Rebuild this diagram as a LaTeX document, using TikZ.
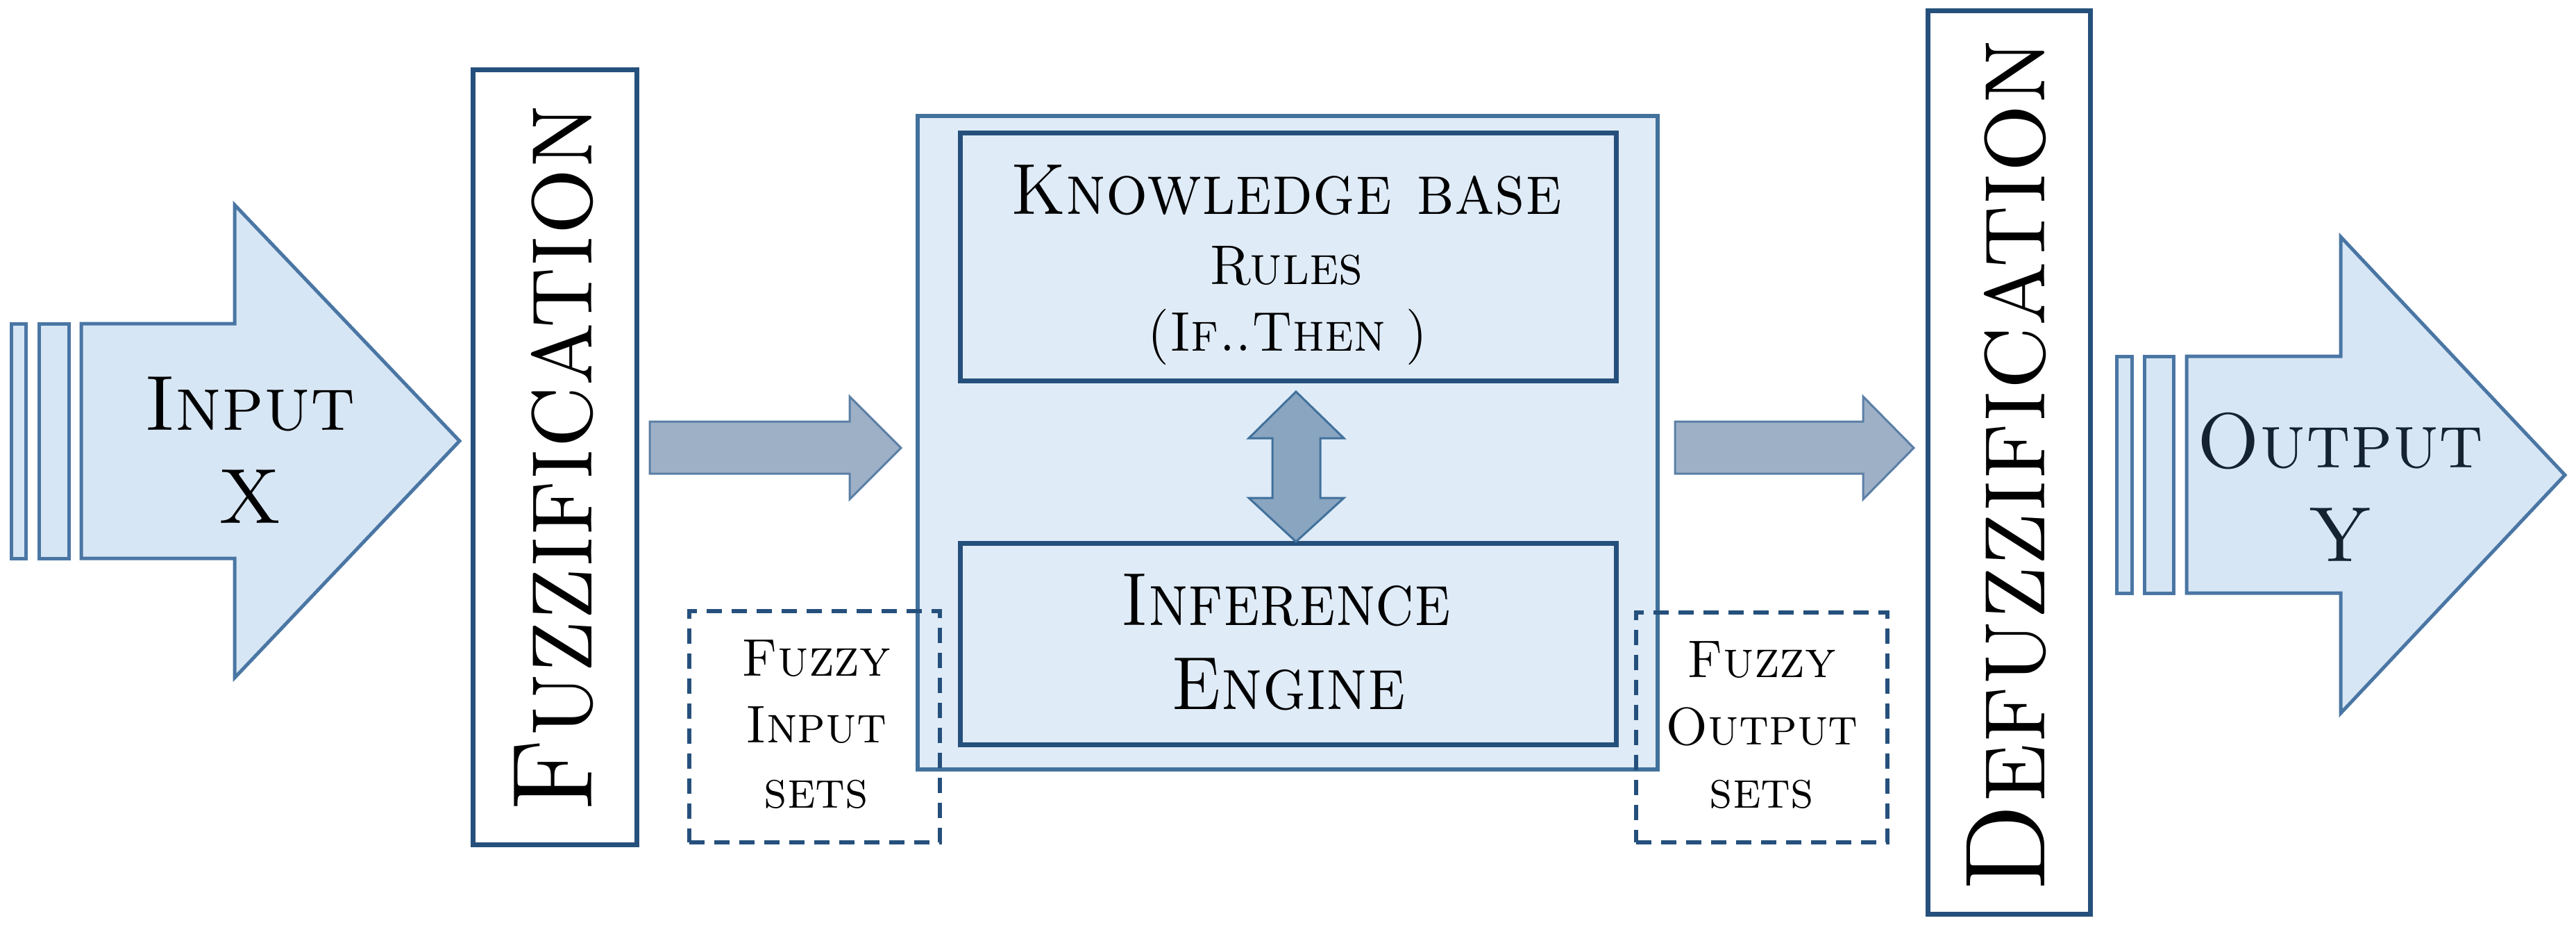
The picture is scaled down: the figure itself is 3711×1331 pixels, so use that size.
\documentclass[tikz,border=0pt]{standalone}
\usepackage{tikz}
\usepackage{graphicx}
\definecolor{arrfill}{HTML}{D7E6F4}
\definecolor{arrline}{HTML}{4A76A4}
\definecolor{boxline}{HTML}{25507C}
\definecolor{contfill}{HTML}{DFEBF7}
\definecolor{contline}{HTML}{41719C}
\definecolor{grayfill}{HTML}{9DB0C6}
\definecolor{grayline}{HTML}{5B7FA6}
\definecolor{dblfill}{HTML}{8AA5C0}
\definecolor{outtext}{HTML}{15222F}
\newcommand{\sx}[2]{\scalebox{#1}[1]{#2}}
\tikzset{
  bigarrow/.style={fill=arrfill, draw=arrline, line width=0.5mm, line join=miter},
  flowarrow/.style={fill=grayfill, draw=grayline, line width=0.3mm, line join=miter},
  darkbox/.style={draw=boxline, line width=0.7mm, inner sep=0pt},
  dashbox/.style={draw=boxline, line width=0.6mm, dash pattern=on 2.2mm off 1.4mm, inner sep=0pt},
  lbl/.style={anchor=base, inner sep=0pt, text=black},
}
\begin{document}
\begin{tikzpicture}[x=0.1mm,y=-0.1mm]
\useasboundingbox (0,0) rectangle (3711,1331);
% input arrow
\draw[bigarrow] (16,466) rectangle (37,804);
\draw[bigarrow] (56,466) rectangle (99,804);
\draw[bigarrow] (117,466) -- (338,466) -- (338,295) -- (662,635) -- (338,976) -- (338,804) -- (117,804) -- cycle;
\node[lbl, font=\fontsize{32}{38}\selectfont\scshape] (inp) at (360,619) {\sx{0.97}{Input}};
\node[lbl, font=\fontsize{32}{38}\selectfont\scshape] (inx) at (360,753) {X};
% fuzzification
\node[darkbox, minimum width=23.6mm, minimum height=111.6mm] (fuzz) at (799,658) {};
\node[lbl, rotate=90, font=\fontsize{46.7}{50}\selectfont\scshape] (fuzzt) at (852,660) {\sx{0.92}{Fuzzification}};
% arrow 1
\draw[flowarrow] (936,607) -- (1224,607) -- (1224,571) -- (1298,645) -- (1224,719) -- (1224,682) -- (936,682) -- cycle;
% container
\node[draw=contline, fill=contfill, line width=0.6mm, inner sep=0pt, minimum width=106.6mm, minimum height=94.1mm] (cont) at (1855,637.5) {};
\node[darkbox, minimum width=94.5mm, minimum height=35.7mm] (kb) at (1855.5,369.5) {};
\node[darkbox, minimum width=94.5mm, minimum height=29mm] (ie) at (1855.5,927) {};
\node[lbl, font=\fontsize{29.6}{34}\selectfont\scshape] (kbt) at (1853,308) {\sx{0.91}{Knowledge base}};
\node[lbl, font=\fontsize{22.9}{28}\selectfont\scshape] (rul) at (1853,409) {\sx{0.945}{Rules}};
\node[lbl, font=\fontsize{22.9}{28}\selectfont\scshape] (ift) at (1855,505) {\sx{0.93}{(If..Then )}};
\node[lbl, font=\fontsize{30.8}{36}\selectfont\scshape] (iet) at (1853,900) {\sx{0.87}{Inference}};
\node[lbl, font=\fontsize{30.8}{36}\selectfont\scshape] (eng) at (1856,1021) {\sx{0.9}{Engine}};
% double arrow
\draw[fill=dblfill, draw=contline, line width=0.3mm, line join=miter] (1867,564) -- (1936,631) -- (1902,631) -- (1902,717) -- (1936,717) -- (1867,780) -- (1799,717) -- (1833,717) -- (1833,631) -- (1799,631) -- cycle;
% dashed boxes
\node[dashbox, minimum width=36.1mm, minimum height=33.3mm] (fin) at (1173.5,1046.5) {};
\node[lbl, font=\fontsize{21.7}{26}\selectfont\scshape] at (1176,973) {\sx{0.955}{Fuzzy}};
\node[lbl, font=\fontsize{21.7}{26}\selectfont\scshape] at (1176,1069) {\sx{0.955}{Input}};
\node[lbl, font=\fontsize{21.7}{26}\selectfont\scshape] at (1176,1163) {\sx{0.955}{sets}};
\node[dashbox, minimum width=36.2mm, minimum height=33.1mm] (fout) at (2538,1047.5) {};
\node[lbl, font=\fontsize{21.7}{26}\selectfont\scshape] at (2538,975) {\sx{0.955}{Fuzzy}};
\node[lbl, font=\fontsize{21.7}{26}\selectfont\scshape] at (2538,1072) {\sx{0.955}{Output}};
\node[lbl, font=\fontsize{21.7}{26}\selectfont\scshape] at (2538,1163) {\sx{0.955}{sets}};
% arrow 2
\draw[flowarrow] (2413,607) -- (2684,607) -- (2684,571) -- (2757,645) -- (2684,719) -- (2684,682) -- (2413,682) -- cycle;
% defuzzification
\node[darkbox, minimum width=23.4mm, minimum height=130.1mm] (defuzz) at (2894,665.5) {};
\node[lbl, rotate=90, font=\fontsize{46.7}{50}\selectfont\scshape] (defuzzt) at (2945,670) {\sx{0.94}{Defuzzification}};
% output arrow
\draw[bigarrow] (3049,513) rectangle (3071,854);
\draw[bigarrow] (3089,513) rectangle (3131,854);
\draw[bigarrow] (3150,513) -- (3372,513) -- (3372,341) -- (3695,684) -- (3372,1027) -- (3372,854) -- (3150,854) -- cycle;
\node[lbl, text=outtext, font=\fontsize{32}{38}\selectfont\scshape] (outp) at (3371,673) {\sx{0.965}{Output}};
\node[lbl, text=outtext, font=\fontsize{32}{38}\selectfont\scshape] (outy) at (3371,808) {Y};
\end{tikzpicture}
\end{document}
